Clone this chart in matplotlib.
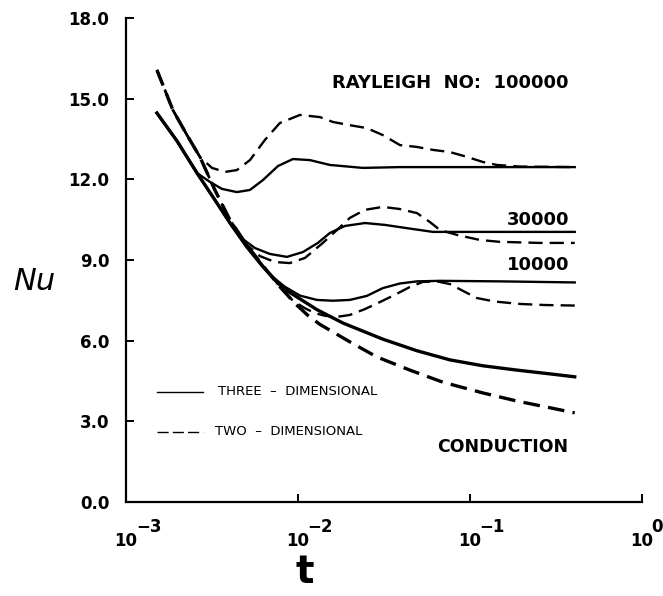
import numpy as np
import matplotlib.pyplot as plt

# values: log10(t) and Nu for each curve
cond3d_logt = [-2.820, -2.703, -2.587, -2.483, -2.395, -2.297, -2.203, -2.087, -1.890, -1.738,
               -1.506, -1.308, -1.116, -0.924, -0.727, -0.535, -0.390]
cond3d_nu = [14.46, 13.42, 12.23, 11.23, 10.37, 9.48, 8.74, 7.95, 7.15, 6.65,
             6.05, 5.62, 5.28, 5.06, 4.90, 4.76, 4.65]

cond2d_logt = [-2.820, -2.727, -2.645, -2.570, -2.483, -2.395, -2.297, -2.203, -2.105, -2.017,
               -1.945, -1.872, -1.698, -1.541, -1.349, -1.157, -0.924, -0.727, -0.535, -0.390]
cond2d_nu = [16.06, 14.57, 13.64, 12.83, 11.60, 10.48, 9.55, 8.78, 8.00, 7.38,
             6.95, 6.60, 5.95, 5.39, 4.90, 4.45, 4.05, 3.75, 3.50, 3.31]

ra1e5_3d_logt = [-2.820, -2.703, -2.587, -2.512, -2.442, -2.355, -2.279, -2.203, -2.116, -2.029,
                 -1.930, -1.814, -1.622, -1.407, -0.826, -0.390]
ra1e5_3d_nu = [14.46, 13.42, 12.23, 11.90, 11.64, 11.52, 11.60, 11.97, 12.49, 12.75,
               12.71, 12.53, 12.42, 12.45, 12.45, 12.45]

ra1e5_2d_logt = [-2.820, -2.727, -2.645, -2.570, -2.500, -2.424, -2.355, -2.279, -2.192, -2.105,
                 -1.988, -1.872, -1.797, -1.698, -1.599, -1.506, -1.407, -1.308, -1.215, -1.116,
                 -1.017, -0.924, -0.843, -0.709, -0.390]
ra1e5_2d_nu = [16.06, 14.57, 13.64, 12.83, 12.42, 12.27, 12.34, 12.71, 13.46, 14.09,
               14.39, 14.31, 14.13, 14.01, 13.90, 13.64, 13.27, 13.20, 13.09, 13.01,
               12.83, 12.64, 12.53, 12.47, 12.45]

ra3e4_3d_logt = [-2.820, -2.703, -2.587, -2.483, -2.395, -2.337, -2.250, -2.163, -2.064, -1.971,
                 -1.884, -1.814, -1.727, -1.610, -1.494, -1.378, -1.215, -0.971, -0.390]
ra3e4_3d_nu = [14.46, 13.42, 12.23, 11.23, 10.37, 9.85, 9.44, 9.22, 9.11, 9.29,
               9.63, 10.00, 10.26, 10.37, 10.30, 10.19, 10.04, 10.04, 10.04]

ra3e4_2d_logt = [-2.820, -2.727, -2.645, -2.570, -2.483, -2.395, -2.297, -2.221, -2.134, -2.047,
                 -1.959, -1.855, -1.773, -1.698, -1.610, -1.506, -1.407, -1.308, -1.233, -1.174,
                 -1.076, -0.942, -0.826, -0.593, -0.390]
ra3e4_2d_nu = [16.06, 14.57, 13.64, 12.83, 11.60, 10.48, 9.55, 9.14, 8.92, 8.88,
               9.07, 9.63, 10.11, 10.56, 10.86, 10.97, 10.89, 10.74, 10.41, 10.11,
               9.93, 9.74, 9.67, 9.63, 9.63]

ra1e4_3d_logt = [-2.820, -2.703, -2.587, -2.483, -2.395, -2.297, -2.203, -2.163, -2.076, -1.988,
                 -1.890, -1.797, -1.698, -1.599, -1.506, -1.407, -1.308, -1.174, -0.826, -0.390]
ra1e4_3d_nu = [14.46, 13.42, 12.23, 11.23, 10.37, 9.48, 8.74, 8.45, 8.00, 7.67,
               7.51, 7.48, 7.51, 7.66, 7.95, 8.12, 8.20, 8.22, 8.20, 8.16]

ra1e4_2d_logt = [-2.820, -2.727, -2.645, -2.570, -2.483, -2.395, -2.297, -2.203, -2.105, -2.029,
                 -1.959, -1.901, -1.843, -1.773, -1.698, -1.610, -1.523, -1.436, -1.349, -1.273,
                 -1.192, -1.116, -1.041, -0.959, -0.855, -0.709, -0.564, -0.390]
ra1e4_2d_nu = [16.06, 14.57, 13.64, 12.83, 11.60, 10.48, 9.55, 8.78, 8.00, 7.48,
               7.20, 7.02, 6.92, 6.88, 6.95, 7.17, 7.43, 7.70, 7.99, 8.18,
               8.20, 8.10, 7.85, 7.58, 7.45, 7.36, 7.32, 7.30]

yticks = [0, 3, 6, 9, 12, 15, 18]
xtick_exps = [-3, -2, -1, 0]

fig = plt.figure(figsize=(6.63, 5.96), dpi=100)
ax = fig.add_axes([0.190, 0.158, 0.778, 0.812])

def T(logt):
    return 10.0 ** np.array(logt)

solid = dict(color="k", lw=1.7)
dashed = dict(color="k", lw=1.7, dashes=(6, 3))

ax.plot(T(cond3d_logt), cond3d_nu, color="k", lw=2.4)
ax.plot(T(cond2d_logt), cond2d_nu, color="k", lw=2.4, dashes=(5, 2.5))
ax.plot(T(ra1e5_3d_logt), ra1e5_3d_nu, **solid)
ax.plot(T(ra1e5_2d_logt), ra1e5_2d_nu, **dashed)
ax.plot(T(ra3e4_3d_logt), ra3e4_3d_nu, **solid)
ax.plot(T(ra3e4_2d_logt), ra3e4_2d_nu, **dashed)
ax.plot(T(ra1e4_3d_logt), ra1e4_3d_nu, **solid)
ax.plot(T(ra1e4_2d_logt), ra1e4_2d_nu, **dashed)

ax.set_xscale("log")
ax.set_xlim(1e-3, 1.0)
ax.set_ylim(0, 18)
ax.spines["top"].set_visible(False)
ax.spines["right"].set_visible(False)
for s in ["left", "bottom"]:
    ax.spines[s].set_linewidth(1.6)

ax.set_yticks(yticks)
ax.set_yticklabels([f"{v:.1f}" for v in yticks], fontsize=12, fontweight="bold")
ax.tick_params(axis="y", direction="in", length=6, width=1.4, pad=12)
ax.set_xticks([10.0 ** e for e in xtick_exps])
ax.set_xticklabels([])
ax.minorticks_off()
ax.tick_params(axis="x", direction="in", length=6, width=1.4)

# x tick labels drawn as "10" with a large exponent
for e in xtick_exps:
    ax.text(10.0 ** e, -0.080, "10", transform=ax.get_xaxis_transform(),
            ha="center", va="center", fontsize=12, fontweight="bold")
    ax.text(10.0 ** e * 1.14, -0.052, str(e).replace("-", "\u2212"),
            transform=ax.get_xaxis_transform(), ha="left", va="center",
            fontsize=12, fontweight="bold", clip_on=False)

fig.text(34 / 663, 1 - 282 / 596, "Nu", fontsize=22, style="italic",
         ha="center", va="center")
fig.text(305 / 663, 1 - 572 / 596, "t", fontsize=28, fontweight="bold",
         ha="center", va="center")

ax.text(10 ** -0.424, 15.58, "RAYLEIGH  NO:  100000", fontsize=13, fontweight="bold",
        ha="right", va="center")
ax.text(10 ** -0.419, 10.48, "30000", fontsize=13, fontweight="bold", ha="right", va="center")
ax.text(10 ** -0.419, 8.81, "10000", fontsize=13, fontweight="bold", ha="right", va="center")
ax.text(10 ** -0.43, 2.04, "CONDUCTION", fontsize=12.5, fontweight="bold", ha="right", va="center")

# legend drawn by hand
ax.plot([10 ** -2.82, 10 ** -2.552], [4.09, 4.09], color="k", lw=1.0)
ax.plot([10 ** -2.82, 10 ** -2.552], [2.60, 2.60], color="k", lw=1.0, dashes=(8, 3))
ax.text(10 ** -2.465, 4.09, "THREE  \u2013  DIMENSIONAL", fontsize=9.5, ha="left", va="center")
ax.text(10 ** -2.483, 2.60, "TWO  \u2013  DIMENSIONAL", fontsize=9.5, ha="left", va="center")

fig.savefig("out.png", dpi=100)
